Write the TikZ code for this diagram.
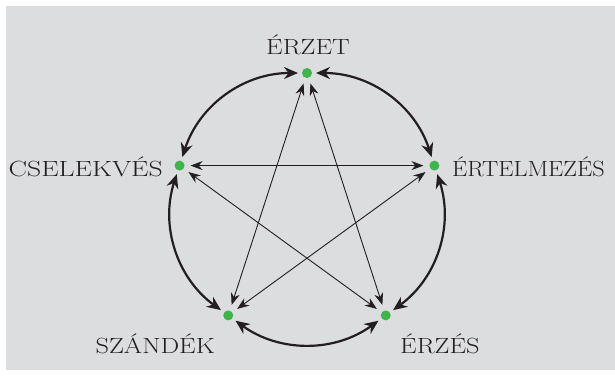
\documentclass[tikz,border=0pt]{standalone}
\usepackage{fontspec}
\newfontfamily\lblfont[FakeStretch=1.2]{Latin Modern Roman}
\usetikzlibrary{arrows.meta,calc}
\definecolor{bggray}{HTML}{DCDDDF}
\definecolor{dotgreen}{HTML}{3DB54A}
\definecolor{ink}{HTML}{231F20}
\begin{document}
\begin{tikzpicture}[x=1pt,y=1pt,
  dot/.style={circle,fill=dotgreen,minimum size=10pt,inner sep=0pt,outer sep=0pt},
  lbl/.style={text=ink,inner sep=0pt,font=\lblfont\fontsize{22}{26}\selectfont},
  ring/.style={draw=ink,line width=2.2pt,{Stealth[length=14pt,width=12pt]}-{Stealth[length=14pt,width=12pt]},shorten <=4pt,shorten >=4pt},
  star/.style={draw=ink,line width=0.9pt,{Stealth[length=12pt,width=9pt]}-{Stealth[length=12pt,width=9pt]},shorten <=6pt,shorten >=6pt}]
\useasboundingbox (0,0) rectangle (615,376);
\fill[bggray] (6,6) rectangle (615,370);
\coordinate (c) at (307,169);
\node[dot] (t) at ($(c)+(90:134)$) {};
\node[dot] (r) at ($(c)+(18:134)$) {};
\node[dot] (br) at ($(c)+(-54:134)$) {};
\node[dot] (bl) at ($(c)+(-126:134)$) {};
\node[dot] (l) at ($(c)+(162:134)$) {};
\node[lbl] (lt) at (308,331) {ÉRZET};
\node[lbl,anchor=east,xscale=1.05] (ll) at (163,209) {CSELEKVÉS};
\node[lbl,anchor=west,xscale=0.92] (lr) at (452,209) {ÉRTELMEZÉS};
\node[lbl,anchor=east] (lbl) at (215,32) {SZÁNDÉK};
\node[lbl,anchor=west] (lbr) at (400,32) {ÉRZÉS};
\draw[ring] (t) to[bend left=36] (r);
\draw[ring] (r) to[bend left=36] (br);
\draw[ring] (br) to[bend left=36] (bl);
\draw[ring] (bl) to[bend left=36] (l);
\draw[ring] (l) to[bend left=36] (t);
\draw[star] (t) -- (br);
\draw[star] (t) -- (bl);
\draw[star] (l) -- (r);
\draw[star] (l) -- (br);
\draw[star] (r) -- (bl);
\end{tikzpicture}
\end{document}
